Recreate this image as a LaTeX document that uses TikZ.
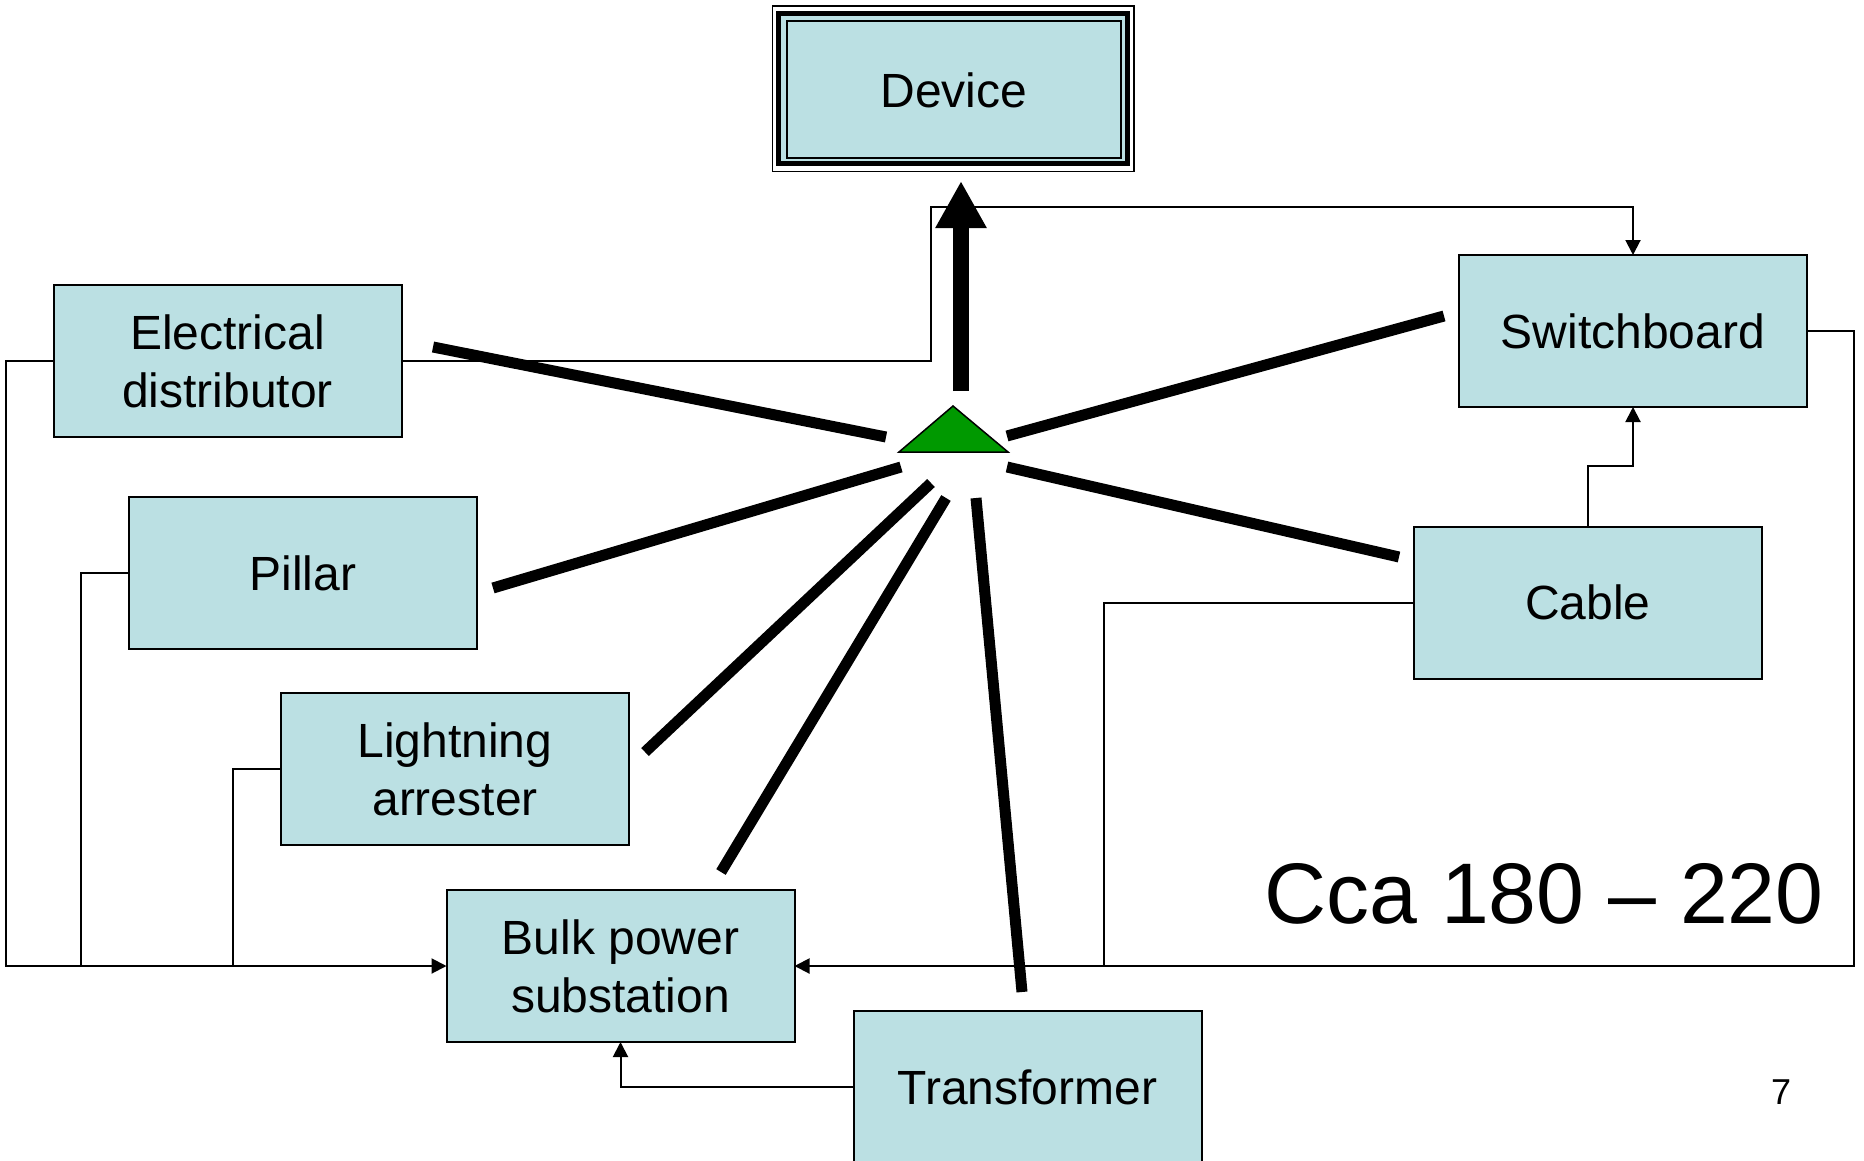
\documentclass[tikz,border=0pt]{standalone}
\usepackage{fontspec}
\setmainfont{Liberation Sans}
\usetikzlibrary{arrows.meta}
\definecolor{boxfill}{HTML}{BBE0E3}
\definecolor{hubgreen}{HTML}{009900}
\begin{document}
\begin{tikzpicture}[x=0.5pt,y=-0.5pt,
  box/.style={draw=black, line width=1pt, fill=boxfill, minimum width=174pt, minimum height=76pt,
    inner sep=0pt, outer sep=0pt, align=center, font=\fontsize{24}{29}\selectfont},
  conn/.style={draw=black, line width=1pt},
  arr/.style={conn, -{Triangle[length=7.5pt,width=7.5pt]}},
  spoke/.style={draw=black, line width=5.5pt},
]
\useasboundingbox (0,0) rectangle (1864,1161);
\clip (0,0) rectangle (1864,1161);

% Device frame
\draw[line width=0.75pt] (772.5,6) rectangle (1134,171.5);
\draw[line width=2.75pt, fill=boxfill] (778.5,13.5) rectangle (1127.5,163.5);
\node[box, minimum width=167pt, minimum height=68.5pt] (device) at (954,90) {Device};

% boxes
\node[box] (elec) at (227.5,361) {Electrical\\distributor};
\node[box] (switch) at (1633,331) {Switchboard};
\node[box] (cable) at (1588,602.5) {Cable};
\node[box] (pillar) at (303,573) {Pillar};
\node[box] (light) at (455,769) {Lightning\\arrester};
\node[box] (bulk) at (620.5,966) {Bulk power\\substation};
\node[box] (trans) at (1027.5,1087) {Transformer};

% thin connectors
\coordinate (c1) at (931,207);
\coordinate (cl) at (6,966);
\coordinate (p1) at (81,966);
\coordinate (l1) at (233,966);
\coordinate (cr) at (1854,966);
\coordinate (k1) at (1104,966);
\coordinate (c2) at (1633,466);
\draw[arr] (elec.east) -| (c1) -| (switch.north);
\draw[arr] (elec.west) -| (cl) -- (bulk.west);
\draw[conn] (pillar.west) -| (p1);
\draw[conn] (light.west) -| (l1);
\draw[arr] (switch.east) -| (cr) -- (bulk.east);
\draw[conn] (cable.west) -| (k1);
\draw[arr] (cable.north) |- (c2) -- (switch.south);
\draw[arr] (trans.west) -| (bulk.south);

% spokes
\coordinate (sE1) at (433,347);  \coordinate (sE2) at (886,437);
\coordinate (sS1) at (1444,316); \coordinate (sS2) at (1007,436);
\coordinate (sP1) at (493,588);  \coordinate (sP2) at (901,467);
\coordinate (sC1) at (1399,557); \coordinate (sC2) at (1007,467);
\coordinate (sL1) at (645,752);  \coordinate (sL2) at (931,483);
\coordinate (sB1) at (721,872);  \coordinate (sB2) at (946,498);
\coordinate (sT1) at (1022,992); \coordinate (sT2) at (976,498);
\draw[spoke] (sE1) -- (sE2);
\draw[spoke] (sS1) -- (sS2);
\draw[spoke] (sP1) -- (sP2);
\draw[spoke] (sC1) -- (sC2);
\draw[spoke] (sL1) -- (sL2);
\draw[spoke] (sB1) -- (sB2);
\draw[spoke] (sT1) -- (sT2);

% hub triangle
\draw[fill=hubgreen, line width=0.75pt] (953,406) -- (1008,452) -- (899,452) -- cycle;

% thick arrow to device
\coordinate (a1) at (961,391);
\coordinate (a2) at (961,181);
\draw[line width=8pt, -{Triangle[length=23.5pt,width=24pt]}] (a1) -- (a2);

% texts
\node[font=\fontsize{43}{50}\selectfont, anchor=base, inner sep=0pt] (cca) at (1544,923) {Cca 180 – 220};
\node[font=\fontsize{18}{21}\selectfont, anchor=base, inner sep=0pt] (pg) at (1781,1104) {7};
\end{tikzpicture}
\end{document}
